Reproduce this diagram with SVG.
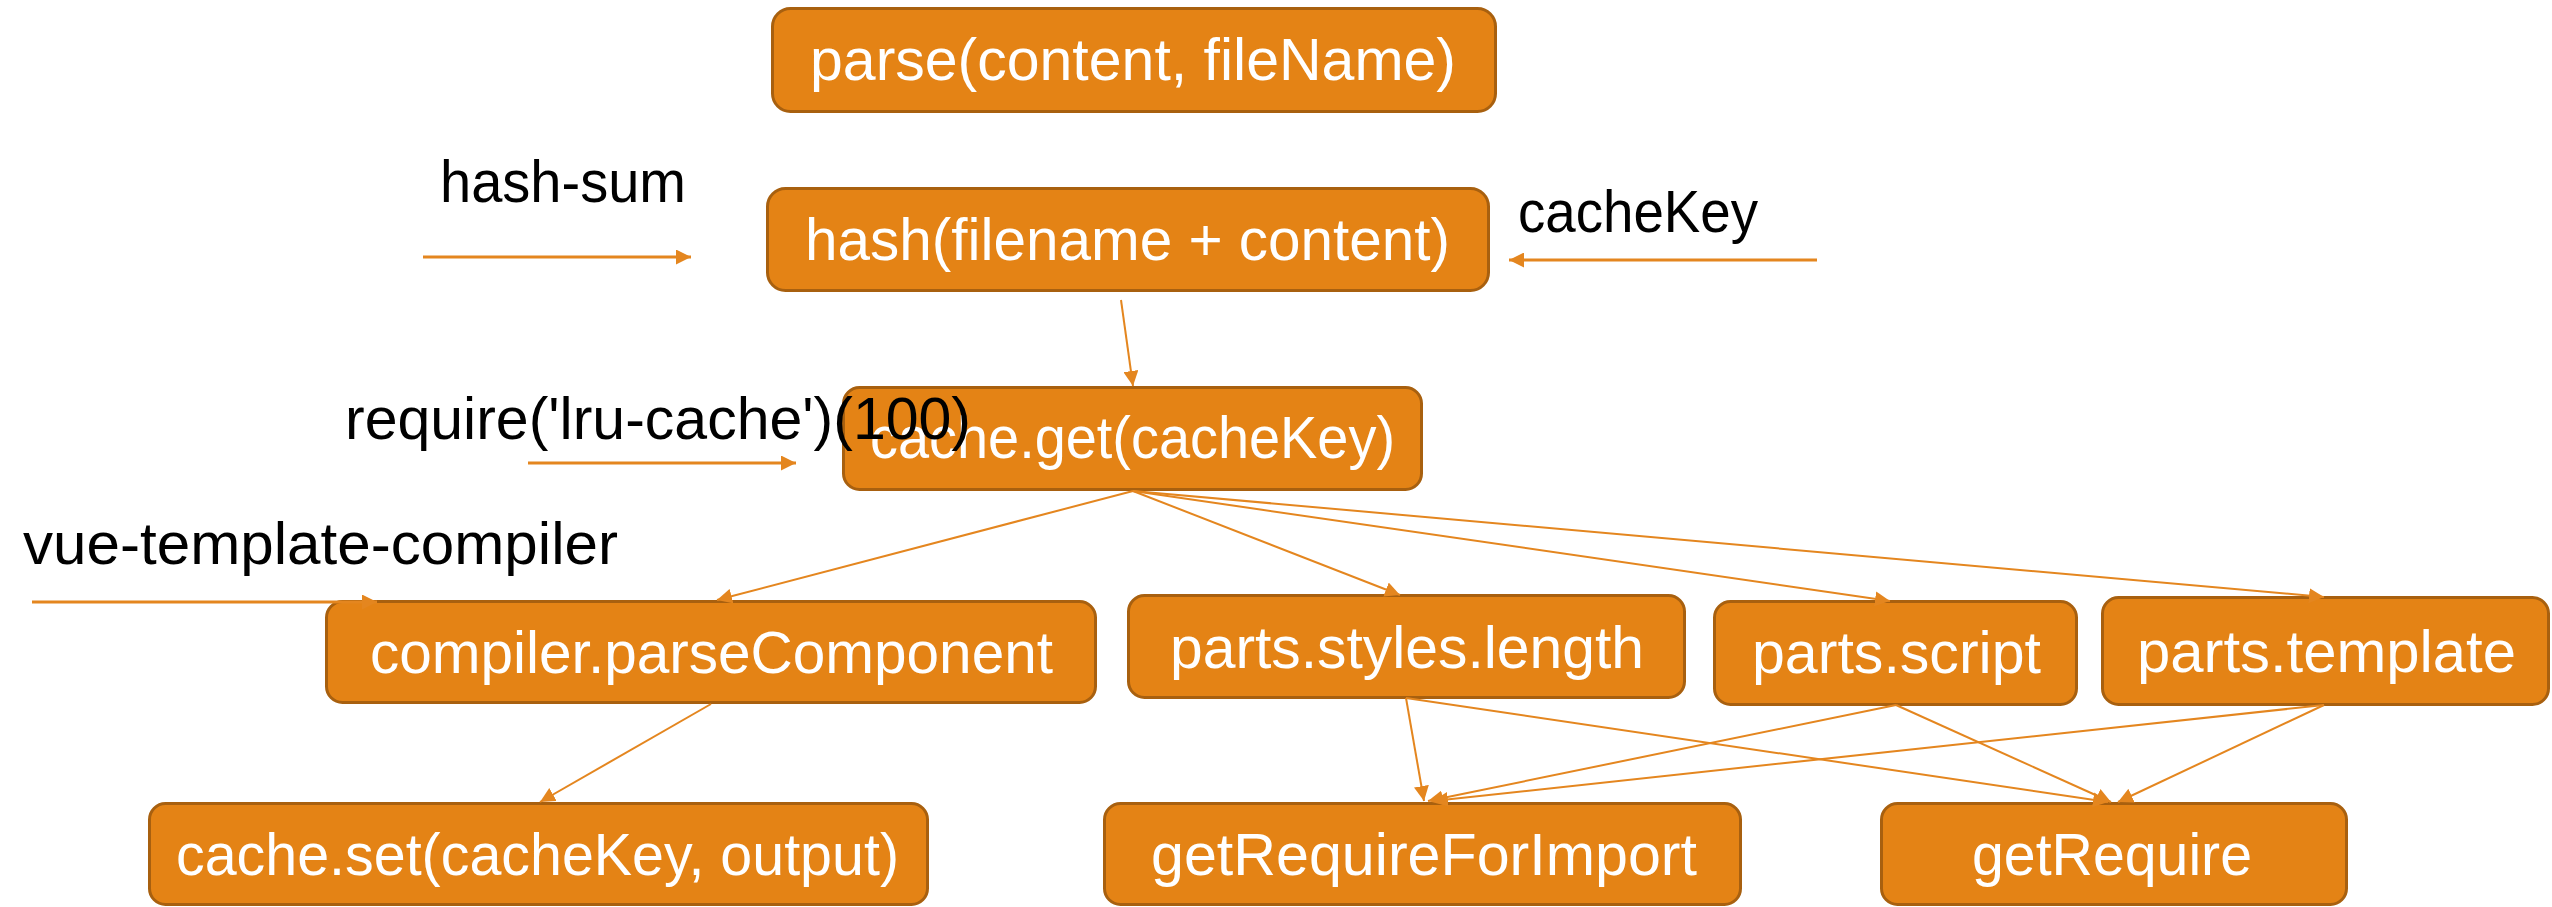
<svg xmlns="http://www.w3.org/2000/svg" width="2552" height="907" viewBox="0 0 2552 907">
  <style>
    .box { fill: #E48315; stroke: #A8600F; stroke-width: 3; }
    .node-text { font-family: "Liberation Sans", Arial, sans-serif; font-size: 60px; fill: #FFFFFF; }
    .label { font-family: "Liberation Sans", Arial, sans-serif; font-size: 60px; fill: #000000; }
    .edge { fill: none; stroke: #E4861F; stroke-width: 2; }
    .feed { fill: none; stroke: #E4861F; stroke-width: 3; }
  </style>
  <defs>
    <marker id="arrow" markerUnits="userSpaceOnUse" markerWidth="15" markerHeight="15" refX="15" refY="7.5" orient="auto">
      <path d="M0,0 L15,7.5 L0,15 z" fill="#E4861F"/>
    </marker>
  </defs>

  <rect width="2552" height="907" fill="#FFFFFF"/>

  <!-- process nodes -->
  <g id="node-parse">
    <rect class="box" x="772.5" y="8.5" width="723" height="103" rx="18"/>
    <text class="node-text" x="810" y="80" textLength="646" lengthAdjust="spacingAndGlyphs">parse(content, fileName)</text>
  </g>
  <g id="node-hash">
    <rect class="box" x="767.5" y="188.5" width="721" height="102" rx="18"/>
    <text class="node-text" x="805" y="260" textLength="645" lengthAdjust="spacingAndGlyphs">hash(filename + content)</text>
  </g>
  <g id="node-cache-get">
    <rect class="box" x="843.5" y="387.5" width="578" height="102" rx="16"/>
    <text class="node-text" x="870" y="458" textLength="525" lengthAdjust="spacingAndGlyphs">cache.get(cacheKey)</text>
  </g>
  <g id="node-parse-component">
    <rect class="box" x="326.5" y="601.5" width="769" height="101" rx="16"/>
    <text class="node-text" x="370" y="673" textLength="683" lengthAdjust="spacingAndGlyphs">compiler.parseComponent</text>
  </g>
  <g id="node-styles">
    <rect class="box" x="1128.5" y="595.5" width="556" height="102" rx="16"/>
    <text class="node-text" x="1170" y="668" textLength="474" lengthAdjust="spacingAndGlyphs">parts.styles.length</text>
  </g>
  <g id="node-script">
    <rect class="box" x="1714.5" y="601.5" width="362" height="103" rx="16"/>
    <text class="node-text" x="1752" y="673" textLength="289" lengthAdjust="spacingAndGlyphs">parts.script</text>
  </g>
  <g id="node-template">
    <rect class="box" x="2102.5" y="597.5" width="446" height="107" rx="16"/>
    <text class="node-text" x="2137" y="672" textLength="379" lengthAdjust="spacingAndGlyphs">parts.template</text>
  </g>
  <g id="node-cache-set">
    <rect class="box" x="149.5" y="803.5" width="778" height="101" rx="16"/>
    <text class="node-text" x="176" y="875" textLength="723" lengthAdjust="spacingAndGlyphs">cache.set(cacheKey, output)</text>
  </g>
  <g id="node-require-for-import">
    <rect class="box" x="1104.5" y="803.5" width="636" height="101" rx="16"/>
    <text class="node-text" x="1151" y="875" textLength="546" lengthAdjust="spacingAndGlyphs">getRequireForImport</text>
  </g>
  <g id="node-require">
    <rect class="box" x="1881.5" y="803.5" width="465" height="101" rx="16"/>
    <text class="node-text" x="1972" y="875" textLength="280" lengthAdjust="spacingAndGlyphs">getRequire</text>
  </g>

  <!-- connectors between nodes and the side inputs -->
  <g id="connectors">
    <line class="edge" x1="1121" y1="300" x2="1133" y2="386" marker-end="url(#arrow)"/>
    <line class="edge" x1="1133" y1="491" x2="717" y2="600" marker-end="url(#arrow)"/>
    <line class="edge" x1="1133" y1="491" x2="1400" y2="595" marker-end="url(#arrow)"/>
    <line class="edge" x1="1133" y1="491" x2="1890" y2="601" marker-end="url(#arrow)"/>
    <line class="edge" x1="1133" y1="491" x2="2324" y2="597" marker-end="url(#arrow)"/>
    <line class="edge" x1="711" y1="704" x2="540" y2="802" marker-end="url(#arrow)"/>
    <line class="edge" x1="1406" y1="698" x2="1424" y2="801" marker-end="url(#arrow)"/>
    <line class="edge" x1="1406" y1="698" x2="2108" y2="802" marker-end="url(#arrow)"/>
    <line class="edge" x1="1896" y1="705" x2="1428" y2="801" marker-end="url(#arrow)"/>
    <line class="edge" x1="1896" y1="705" x2="2111" y2="802" marker-end="url(#arrow)"/>
    <line class="edge" x1="2324" y1="705" x2="1433" y2="801" marker-end="url(#arrow)"/>
    <line class="edge" x1="2324" y1="705" x2="2118" y2="802" marker-end="url(#arrow)"/>

    <line class="feed" x1="423" y1="257" x2="691" y2="257" marker-end="url(#arrow)"/>
    <line class="feed" x1="1817" y1="260" x2="1509" y2="260" marker-end="url(#arrow)"/>
    <line class="feed" x1="528" y1="463" x2="796" y2="463" marker-end="url(#arrow)"/>
    <line class="feed" x1="32" y1="602" x2="377" y2="602" marker-end="url(#arrow)"/>
  </g>

  <!-- input labels -->
  <g id="labels">
    <text class="label" x="440" y="202" textLength="246" lengthAdjust="spacingAndGlyphs">hash-sum</text>
    <text class="label" x="1518" y="232" textLength="240" lengthAdjust="spacingAndGlyphs">cacheKey</text>
    <text class="label" x="345" y="439" textLength="626" lengthAdjust="spacingAndGlyphs">require('lru-cache')(100)</text>
    <text class="label" x="23" y="564" textLength="595" lengthAdjust="spacingAndGlyphs">vue-template-compiler</text>
  </g>
</svg>
